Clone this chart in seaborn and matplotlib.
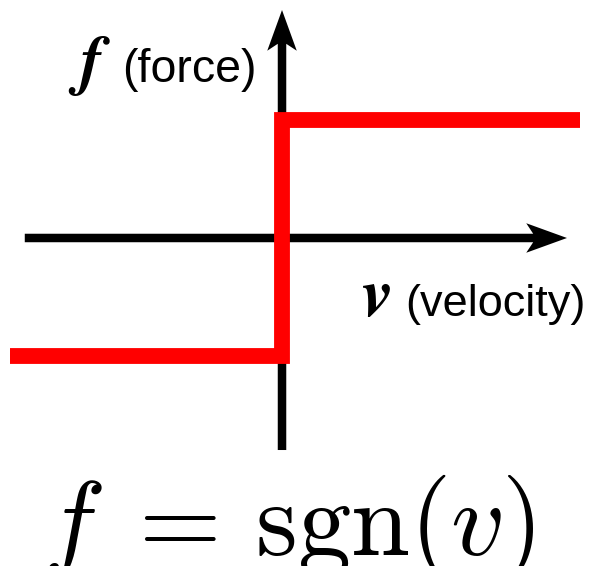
import numpy as np
import pandas as pd
import seaborn as sns
from matplotlib import pyplot as plt

# sign function drawn as a step: velocity v -> force f
v_step = [-2.305, 0.0, 0.0, 2.525]
f_step = [-1.0, -1.0, 1.0, 1.0]

# extent of the two black axes (data units)
v_axis = [-2.18, 2.415]
f_axis = [-1.797, 1.932]

W, H, DPI = 598, 566, 100

sns.set_style("white")

fig = plt.figure(figsize=(W / DPI, H / DPI), dpi=DPI)
ax = fig.add_axes([0, 0, 1, 1])

# black axes with arrow heads
arrow_kw = dict(width=0.072, head_width=0.25, head_length=0.345,
                length_includes_head=True, overhang=0.17,
                fc="black", ec="none", lw=0, zorder=1)
ax.arrow(v_axis[0], 0, v_axis[1] - v_axis[0], 0, **arrow_kw)
ax.arrow(0, f_axis[0], 0, f_axis[1] - f_axis[0], **arrow_kw)

# red step
df = pd.DataFrame({"v": v_step, "f": f_step})
sns.lineplot(data=df, x="v", y="f", sort=False, estimator=None, ax=ax,
             color="#ff0000", linewidth=11.4, solid_capstyle="butt",
             solid_joinstyle="miter", zorder=3)

ax.set_xlim(-2.39, 2.678)
ax.set_ylim(-2.78, 2.017)
ax.axis("off")


def fx(px):
    return px / W


def fy(py):
    return 1 - py / H


# axis labels
fig.text(fx(79), fy(82), "f", family="STIXGeneral", weight="bold",
         style="italic", fontsize=48, va="baseline", color="black")
fig.text(fx(122), fy(82), "(force)", family="Liberation Sans",
         fontsize=33.5, va="baseline", color="black")
fig.text(fx(362), fy(316), "v", family="STIXGeneral", weight="bold",
         style="italic", fontsize=50, va="baseline", color="black")
fig.text(fx(405), fy(316), "(velocity)", family="Liberation Sans",
         fontsize=32.5, va="baseline", color="black")

# formula (cut at the bottom edge, as in the original)
fig.text(fx(288), fy(555), r"$f\;=\,\mathrm{sgn}(v)$", fontsize=76.5,
         ha="center", va="baseline", math_fontfamily="cm", color="black")

fig.savefig("out.png", dpi=DPI)
